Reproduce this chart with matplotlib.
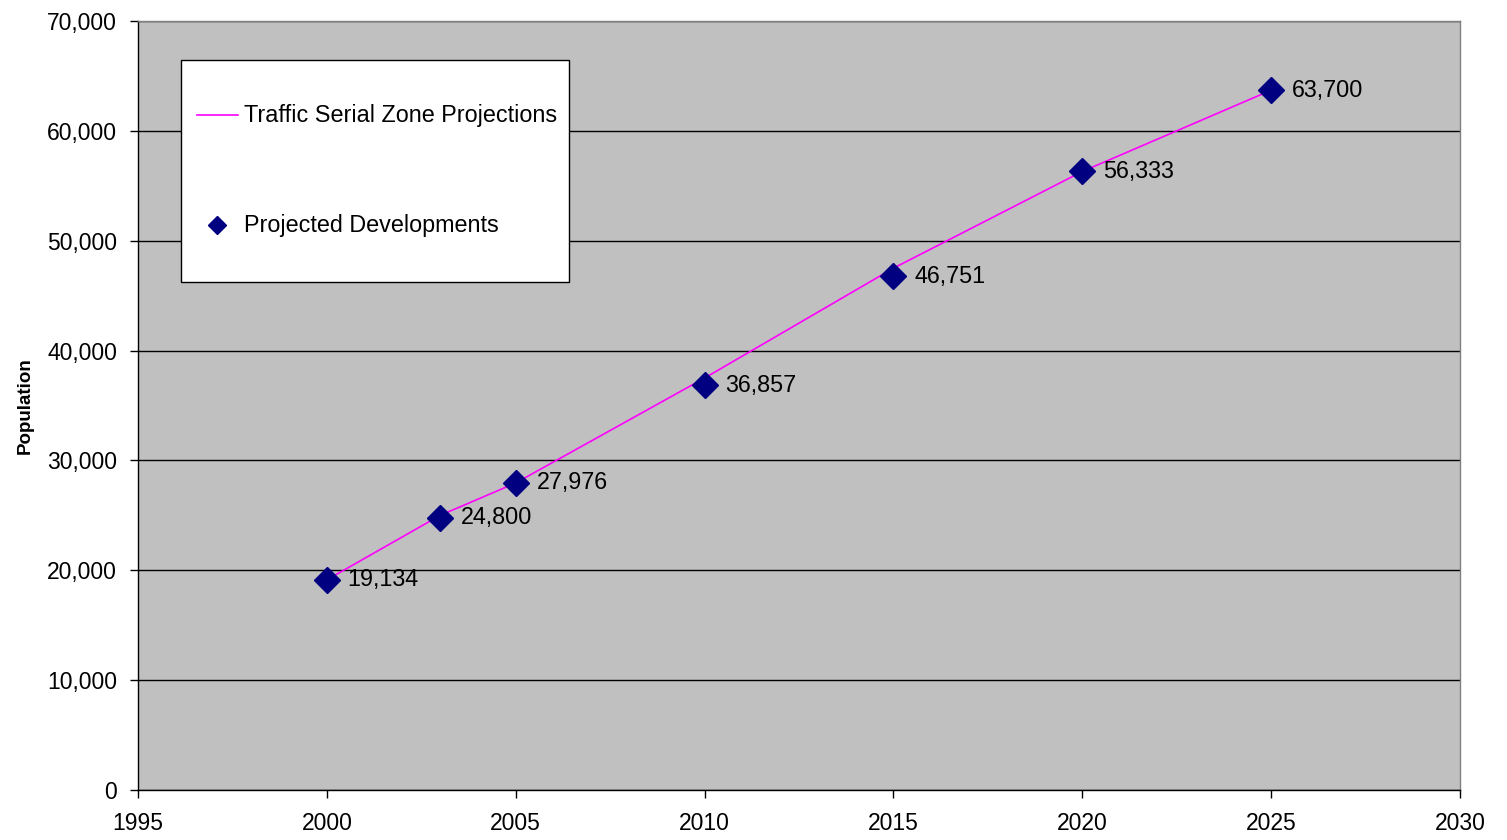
import matplotlib
matplotlib.use("Agg")
import matplotlib.pyplot as plt
from matplotlib.lines import Line2D
from matplotlib.patches import Rectangle
from matplotlib.ticker import FuncFormatter

plt.rcParams['font.family'] = ['Liberation Sans', 'DejaVu Sans']

# Traffic Serial Zone projections (line)
tsz_years = [2000, 2003, 2005, 2010, 2015, 2020, 2025]
tsz_pop = [19134, 25000, 27950, 37500, 47500, 56300, 63700]

# Projected developments (diamonds)
dev_years = [2000, 2003, 2005, 2010, 2015, 2020, 2025]
dev_pop = [19134, 24800, 27976, 36857, 46751, 56333, 63700]

fig = plt.figure(figsize=(15.07, 8.40), dpi=100)
ax = fig.add_axes([0.0916, 0.0595, 0.8772, 0.9155])
ax.set_facecolor('#C0C0C0')

ax.plot(tsz_years, tsz_pop, color='#FF00FF', lw=1.2, zorder=3)
ax.plot(dev_years, dev_pop, ls='none', marker='D', ms=13,
        color='#000080', mec='#000080', zorder=4)

fs = 16.8
for x, y in zip(dev_years, dev_pop):
    ax.annotate(f'{y:,}', (x, y), xytext=(15, 0), textcoords='offset points',
                va='center', ha='left', fontsize=fs, zorder=5)

ax.set_xlim(1995, 2030)
ax.set_ylim(0, 70000)
ax.set_xticks(range(1995, 2031, 5))
ax.set_yticks(range(0, 70001, 10000))
ax.yaxis.set_major_formatter(FuncFormatter(lambda v, p: f'{int(v):,}'))
ax.tick_params(axis='both', direction='out', length=6, width=1,
               labelsize=16.5, color='black')
ax.tick_params(axis='y', pad=9)
ax.tick_params(axis='x', pad=10)

ax.grid(axis='y', color='black', lw=1)
ax.set_axisbelow(True)
for s in ['left', 'bottom']:
    ax.spines[s].set_color('black')
    ax.spines[s].set_linewidth(1)
for s in ['top', 'right']:
    ax.spines[s].set_color('#808080')
    ax.spines[s].set_linewidth(1)

ax.set_ylabel('Population', fontsize=13.5, fontweight='bold',
              family=['Liberation Sans Narrow', 'Liberation Sans'], labelpad=10)

# legend box drawn by hand to match the original layout
ax.add_patch(Rectangle((0.0325, 0.6606), 0.2935, 0.2887, transform=ax.transAxes,
                       facecolor='white', edgecolor='black', lw=1, zorder=6))
ax.add_line(Line2D([0.0446, 0.0756], [0.8778, 0.8778], transform=ax.transAxes,
                   color='#FF00FF', lw=1.2, zorder=7))
ax.text(0.0802, 0.8765, 'Traffic Serial Zone Projections', transform=ax.transAxes,
        va='center', ha='left', fontsize=fs, zorder=7)
ax.add_line(Line2D([0.0598], [0.7347], transform=ax.transAxes, marker='D', ms=9,
                   color='#000080', ls='none', zorder=7))
ax.text(0.0802, 0.7335, 'Projected Developments', transform=ax.transAxes,
        va='center', ha='left', fontsize=fs, zorder=7)

fig.savefig('out.png', dpi=100)
